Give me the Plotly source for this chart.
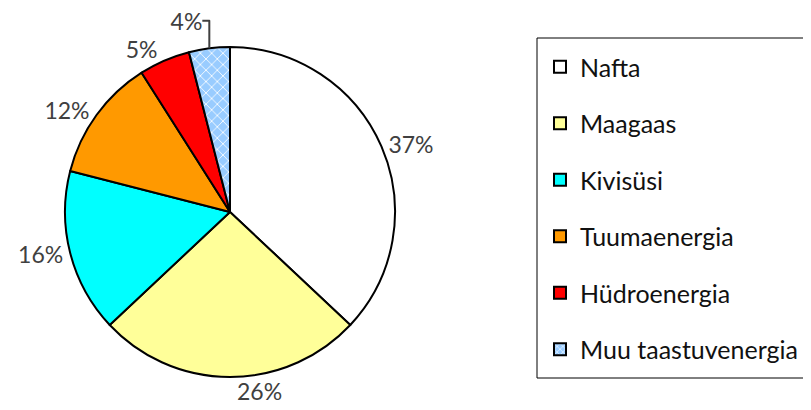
import plotly.graph_objects as go

labels = ["Nafta", "Maagaas", "Kivisüsi", "Tuumaenergia", "Hüdroenergia", "Muu taastuvenergia"]
values = [37, 26, 16, 12, 5, 4]
colors = ["#FFFFFF", "#FFFF99", "#00FFFF", "#FF9900", "#FF0000", "#99CCFF"]
patterns = ["", "", "", "", "", "x"]

FONT = "Lato"
W, H = 811, 410

fig = go.Figure()
fig.add_trace(go.Pie(
    labels=labels, values=values, sort=False, direction="clockwise", rotation=0,
    marker=dict(colors=colors, line=dict(color="black", width=2),
                pattern=dict(shape=patterns, fgcolor="white", bgcolor=colors,
                             fgopacity=1, size=8, solidity=0.2)),
    textinfo="percent", texttemplate="%{percent:.0%}", textposition="outside",
    textfont=dict(family=FONT, size=23, color="#404040"),
    showlegend=False, hoverinfo="skip",
    domain=dict(x=[57 / W, 387 / W], y=[1 - 369 / H, 1 - 39 / H]),
))

for lab, col, pat in zip(labels, colors, patterns):
    fig.add_trace(go.Bar(
        x=[None], y=[None], name=lab, legendgroup=lab, showlegend=True,
        marker=dict(color=col, line=dict(color="black", width=2),
                    pattern=dict(shape=pat, fgcolor="white", bgcolor=col,
                                 fgopacity=1, size=5, solidity=0.25)),
    ))

fig.update_layout(
    width=W, height=H,
    margin=dict(l=0, r=0, t=0, b=0, autoexpand=False),
    paper_bgcolor="white", plot_bgcolor="white",
    xaxis=dict(visible=False, domain=[0.99, 1]),
    yaxis=dict(visible=False, domain=[0.99, 1]),
    legend=dict(x=532 / W, y=1 - 36 / H, xanchor="left", yanchor="top",
                font=dict(family=FONT, size=25, color="#111111"),
                traceorder="grouped", tracegroupgap=21, itemwidth=30,
                borderwidth=0, bgcolor="rgba(0,0,0,0)"),
    shapes=[dict(type="rect", xref="paper", yref="paper",
                 x0=529 / W, x1=1.03, y0=1 - 370 / H, y1=1 - 30 / H,
                 line=dict(color="black", width=1), fillcolor="rgba(0,0,0,0)")],
)

fig.write_html("out.html")
